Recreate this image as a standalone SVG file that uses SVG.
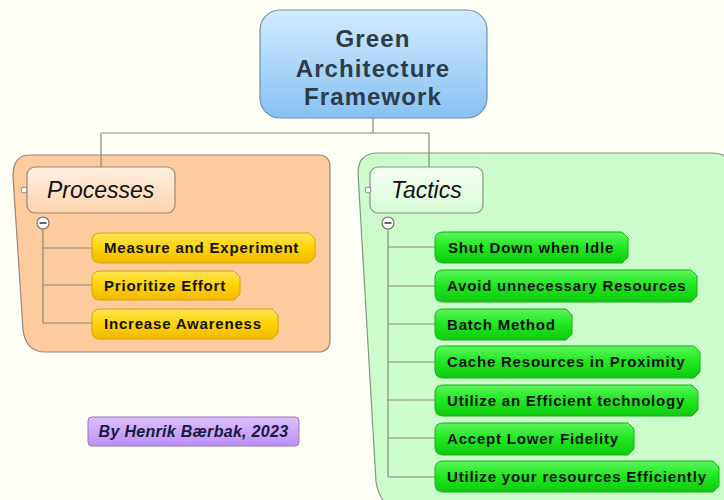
<svg xmlns="http://www.w3.org/2000/svg" width="724" height="500" viewBox="0 0 724 500">
<defs>
<linearGradient id="gRoot" x1="0" y1="0" x2="0" y2="1"><stop offset="0" stop-color="#d2ebff"/><stop offset="1" stop-color="#86c1f3"/></linearGradient>
<linearGradient id="gYel" x1="0" y1="0" x2="0" y2="1"><stop offset="0" stop-color="#ffe45a"/><stop offset="0.5" stop-color="#ffd400"/><stop offset="1" stop-color="#f0b800"/></linearGradient>
<linearGradient id="gGrn" x1="0" y1="0" x2="0" y2="1"><stop offset="0" stop-color="#5cf55c"/><stop offset="0.5" stop-color="#1ee81e"/><stop offset="1" stop-color="#10c810"/></linearGradient>
<linearGradient id="gProc" x1="0" y1="0" x2="0" y2="1"><stop offset="0" stop-color="#fff0e2"/><stop offset="1" stop-color="#fcd3ad"/></linearGradient>
<linearGradient id="gTac" x1="0" y1="0" x2="0" y2="1"><stop offset="0" stop-color="#f6fff6"/><stop offset="1" stop-color="#d6fbd6"/></linearGradient>
<linearGradient id="gPur" x1="0" y1="0" x2="0" y2="1"><stop offset="0" stop-color="#dcc0ff"/><stop offset="1" stop-color="#bb8ff5"/></linearGradient>
</defs>
<style>
.t{font-family:"Liberation Sans",Arial,sans-serif;}
.root{font-size:24px;font-weight:bold;fill:#2e3b48;text-anchor:middle;letter-spacing:1.1px;}
.main{font-size:23px;font-style:italic;fill:#111;}
.leaf{font-size:15px;font-weight:bold;fill:#111;letter-spacing:0.8px;}
.yl{fill:url(#gYel);stroke:#d6a400;stroke-width:1;}
.gl{fill:url(#gGrn);stroke:#16b016;stroke-width:1;}
.ln{stroke:#8a8a7a;stroke-width:1.2;fill:none;}
.dot{fill:#fff;stroke:#888;stroke-width:1;}
.col{fill:#fff;stroke:#777;stroke-width:1.2;}
</style>
<rect width="724" height="500" fill="#fffff6"/>
<!-- boundaries -->
<path d="M30,155 H318 Q330,155 330,167 V340 Q330,352 318,352 H45 Q26,352 23,330 L13,176 Q13,155 30,155 Z" fill="#fdcb9e" stroke="#9b8470" stroke-width="1.2"/>
<path d="M378,153 H712 Q724,153 728,160 V510 H392 Q379,500 376,482 L358,173 Q358,153 378,153 Z" fill="#ccfccc" stroke="#7f9a7f" stroke-width="1.2"/>
<g id="connectors">
<path class="ln" d="M373,118 V133 M101,133 H429 M101,133 V167 M429,133 V167"/>
<path class="ln" d="M43,229 V323 M43,248 H92 M43,285 H92 M43,323 H92"/>
<path class="ln" d="M388,229 V477 M388,247 H435 M388,286 H435 M388,324 H435 M388,362 H435 M388,400 H435 M388,438 H435 M388,477 H435"/>
</g>
<g id="root">
<rect x="260" y="10" width="227" height="108" rx="20" fill="url(#gRoot)" stroke="#6f8fae" stroke-width="1.2"/>
<text class="t root" x="373" y="47">Green</text>
<text class="t root" x="373" y="77">Architecture</text>
<text class="t root" x="373" y="105">Framework</text>
</g>
<g id="processes">
<rect x="27" y="167" width="148" height="46" rx="8" fill="url(#gProc)" stroke="#a08670" stroke-width="1.2"/>
<circle class="dot" cx="24" cy="190" r="3"/>
<text class="t main" x="47" y="198">Processes</text>
<circle class="col" cx="43" cy="223" r="6"/>
<path d="M39.5,223 H46.5" stroke="#333" stroke-width="1.5"/>
</g>
<g id="measure"><path class="yl" d="M100,233 H309 L315,239 V257 L309,263 H100 Q92,263 92,255 V241 Q92,233 100,233 Z"/><text class="t leaf" x="104" y="253">Measure and Experiment</text></g>
<g id="prioritize"><path class="yl" d="M100,271 H234 L240,277 V294 L234,300 H100 Q92,300 92,292 V279 Q92,271 100,271 Z"/><text class="t leaf" x="104" y="291">Prioritize Effort</text></g>
<g id="awareness"><path class="yl" d="M100,309 H272 L278,315 V333 L272,339 H100 Q92,339 92,331 V317 Q92,309 100,309 Z"/><text class="t leaf" x="104" y="329">Increase Awareness</text></g>
<g id="tactics">
<rect x="370" y="167" width="113" height="46" rx="8" fill="url(#gTac)" stroke="#7f9a7f" stroke-width="1.2"/>
<circle class="dot" cx="368" cy="190" r="3"/>
<text class="t main" x="391" y="198">Tactics</text>
<circle class="col" cx="388" cy="223" r="6"/>
<path d="M384.5,223 H391.5" stroke="#333" stroke-width="1.5"/>
</g>
<g id="shutdown"><path class="gl" d="M443,232 H622 L628,238 V257 L622,263 H443 Q435,263 435,255 V240 Q435,232 443,232 Z"/><text class="t leaf" x="448" y="253">Shut Down when Idle</text></g>
<g id="avoid"><path class="gl" d="M443,270 H691 L697,276 V296 L691,302 H443 Q435,302 435,294 V278 Q435,270 443,270 Z"/><text class="t leaf" x="447" y="291">Avoid unnecessary Resources</text></g>
<g id="batch"><path class="gl" d="M443,309 H566 L572,315 V334 L566,340 H443 Q435,340 435,332 V317 Q435,309 443,309 Z"/><text class="t leaf" x="447" y="330">Batch Method</text></g>
<g id="cache"><path class="gl" d="M443,346 H694 L700,352 V372 L694,378 H443 Q435,378 435,370 V354 Q435,346 443,346 Z"/><text class="t leaf" x="447" y="367">Cache Resources in Proximity</text></g>
<g id="efficient"><path class="gl" d="M443,385 H692 L698,391 V410 L692,416 H443 Q435,416 435,408 V393 Q435,385 443,385 Z"/><text class="t leaf" x="447" y="406">Utilize an Efficient technology</text></g>
<g id="fidelity"><path class="gl" d="M443,423 H628 L634,429 V449 L628,455 H443 Q435,455 435,447 V431 Q435,423 443,423 Z"/><text class="t leaf" x="447" y="444">Accept Lower Fidelity</text></g>
<g id="resources"><path class="gl" d="M443,461 H713 L719,467 V486 L713,492 H443 Q435,492 435,484 V469 Q435,461 443,461 Z"/><text class="t leaf" x="447" y="482">Utilize your resources Efficiently</text></g>
<g id="author">
<rect x="88" y="417" width="211" height="29" rx="4" fill="url(#gPur)" stroke="#9577c0" stroke-width="1"/>
<text class="t" x="193.5" y="437" text-anchor="middle" font-size="16" font-weight="bold" font-style="italic" fill="#1a1a40" letter-spacing="0.3">By Henrik Bærbak, 2023</text>
</g>
</svg>
